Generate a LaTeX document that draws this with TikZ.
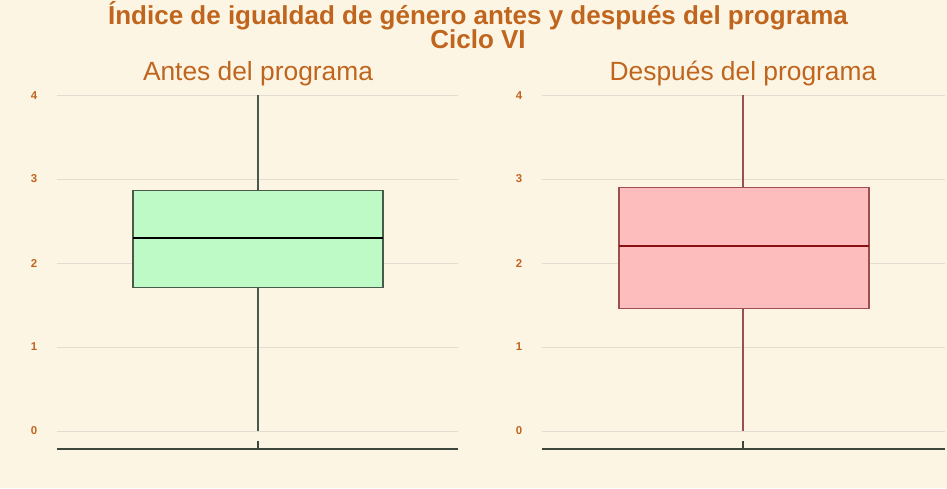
\documentclass[tikz,border=0pt]{standalone}
\usepackage{fontspec}
\setmainfont{Liberation Sans}
\definecolor{bgcream}{HTML}{FDF5E3}
\definecolor{titlebrown}{HTML}{C0651E}
\definecolor{gridgray}{HTML}{E2DDD0}
\definecolor{antesfill}{HTML}{BEFAC5}
\definecolor{antesline}{HTML}{4A5A4A}
\definecolor{despuesfill}{HTML}{FDBDBD}
\definecolor{despuesline}{HTML}{9A5050}
\definecolor{mediandark}{HTML}{8B1010}
\tikzset{
  title/.style={font=\bfseries\fontsize{14.8}{16}\selectfont, text=titlebrown, inner sep=0pt},
  panel title/.style={font=\fontsize{15}{17}\selectfont, text=titlebrown, inner sep=0pt},
  tick label/.style={font=\bfseries\fontsize{6.5}{7}\selectfont, text=titlebrown, inner sep=0pt},
  grid line/.style={draw=gridgray, line width=0.5pt},
  axis line/.style={draw=antesline!80!black, line width=0.9pt}
}
\begin{document}
\begin{tikzpicture}[x=0.02cm, y=-0.02cm]
  \fill[bgcream] (0,0) rectangle (947,488);
  \useasboundingbox (0,0) rectangle (947,488);

  \node[title] (t1) at (478,16) {Índice de igualdad de género antes y después del programa};
  \node[title] (t2) at (478,39) {Ciclo VI};

  % antes del programa
  \begin{scope}[shift={(0,431)}, y=1.68cm]
    \foreach \v in {0,...,4} {
      \draw[grid line] (57,\v) -- (458,\v);
      \node[tick label] (la\v) at (34,\v) {\v};
    }
    \node[panel title] (pa) at (258,4.26) {Antes del programa};
    \draw[antesline, line width=0.8pt] (258,0) -- (258,4);
    \draw[antesline, fill=antesfill, line width=0.7pt] (133,1.71) rectangle (383,2.86);
    \draw[black, line width=1pt] (133,2.30) -- (383,2.30);
    \draw[axis line] (57,-0.214) -- (458,-0.214);
    \draw[axis line] (258,-0.214) -- (258,-0.12);
  \end{scope}

  % despues del programa
  \begin{scope}[shift={(485,431)}, y=1.68cm]
    \foreach \v in {0,...,4} {
      \draw[grid line] (57,\v) -- (460,\v);
      \node[tick label] (ld\v) at (34,\v) {\v};
    }
    \node[panel title] (pd) at (258,4.26) {Después del programa};
    \draw[despuesline, line width=0.8pt] (258,0) -- (258,4);
    \draw[despuesline, fill=despuesfill, line width=0.7pt] (134,1.46) rectangle (384,2.90);
    \draw[mediandark, line width=1pt] (134,2.20) -- (384,2.20);
    \draw[axis line] (57,-0.214) -- (460,-0.214);
    \draw[axis line] (258,-0.214) -- (258,-0.12);
  \end{scope}

\end{tikzpicture}
\end{document}
